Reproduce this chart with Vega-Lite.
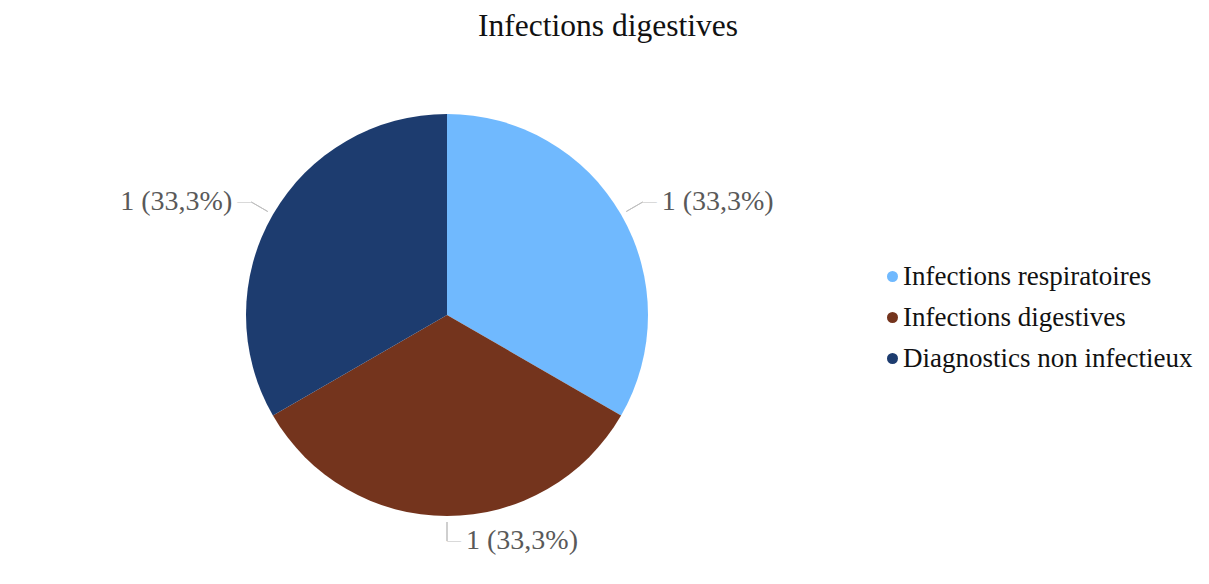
{
  "$schema": "https://vega.github.io/schema/vega-lite/v6.json",
  "width": 894,
  "height": 530,
  "autosize": {"type": "none"},
  "padding": {"left": 0, "top": 50, "right": 315, "bottom": 4},
  "background": "#ffffff",
  "title": {
    "text": "Infections digestives",
    "font": "Liberation Serif",
    "fontSize": 31.5,
    "fontWeight": "normal",
    "color": "#111111",
    "anchor": "middle",
    "dx": 161,
    "dy": -4
  },
  "data": {
    "values": [
      {"cat": "Infections respiratoires", "n": 1, "ord": 1, "label": "1 (33,3%)"},
      {"cat": "Infections digestives", "n": 1, "ord": 2, "label": "1 (33,3%)"},
      {"cat": "Diagnostics non infectieux", "n": 1, "ord": 3, "label": "1 (33,3%)"}
    ]
  },
  "encoding": {
    "theta": {"field": "n", "type": "quantitative", "stack": true},
    "order": {"field": "ord", "type": "quantitative"}
  },
  "layer": [
    {
      "mark": {"type": "arc", "outerRadius": 201},
      "encoding": {
        "color": {
          "field": "cat",
          "type": "nominal",
          "scale": {
            "domain": ["Infections respiratoires", "Infections digestives", "Diagnostics non infectieux"],
            "range": ["#70B9FE", "#74341D", "#1D3C6F"]
          },
          "legend": {
            "orient": "none",
            "legendX": 879,
            "legendY": 213,
            "title": null,
            "padding": 0,
            "labelFont": "Liberation Serif",
            "labelFontSize": 27,
            "labelColor": "#111111",
            "labelLimit": 0,
            "labelOffset": -3,
            "symbolType": "circle",
            "symbolSize": 121,
            "symbolStrokeWidth": 0,
            "rowPadding": 13
          }
        }
      }
    },
    {
      "mark": {"type": "arc", "innerRadius": 207, "outerRadius": 226, "padAngle": 3, "filled": false, "stroke": "#bfbfbf", "strokeWidth": 1},
      "encoding": {"detail": {"field": "cat", "type": "nominal"}}
    },
    {
      "mark": {"type": "text", "radius": 226, "align": "left", "baseline": "middle", "font": "Liberation Serif", "fontSize": 14, "fill": "#bfbfbf"},
      "encoding": {
        "detail": {"field": "cat", "type": "nominal"},
        "text": {"condition": {"test": "datum.cat !== 'Diagnostics non infectieux'", "value": "—"}, "value": ""}
      }
    },
    {
      "mark": {"type": "text", "radius": 226, "align": "right", "baseline": "middle", "font": "Liberation Serif", "fontSize": 14, "fill": "#bfbfbf"},
      "encoding": {
        "detail": {"field": "cat", "type": "nominal"},
        "text": {"condition": {"test": "datum.cat === 'Diagnostics non infectieux'", "value": "—"}, "value": ""}
      }
    },
    {
      "mark": {"type": "text", "radius": 226, "align": "left", "baseline": "middle", "dx": 19, "font": "Liberation Serif", "fontSize": 28, "fill": "#595959"},
      "encoding": {
        "detail": {"field": "cat", "type": "nominal"},
        "text": {"condition": {"test": "datum.cat !== 'Diagnostics non infectieux'", "field": "label"}, "value": ""}
      }
    },
    {
      "mark": {"type": "text", "radius": 226, "align": "right", "baseline": "middle", "dx": -19, "font": "Liberation Serif", "fontSize": 28, "fill": "#595959"},
      "encoding": {
        "detail": {"field": "cat", "type": "nominal"},
        "text": {"condition": {"test": "datum.cat === 'Diagnostics non infectieux'", "field": "label"}, "value": ""}
      }
    }
  ],
  "config": {"view": {"stroke": null}}
}
